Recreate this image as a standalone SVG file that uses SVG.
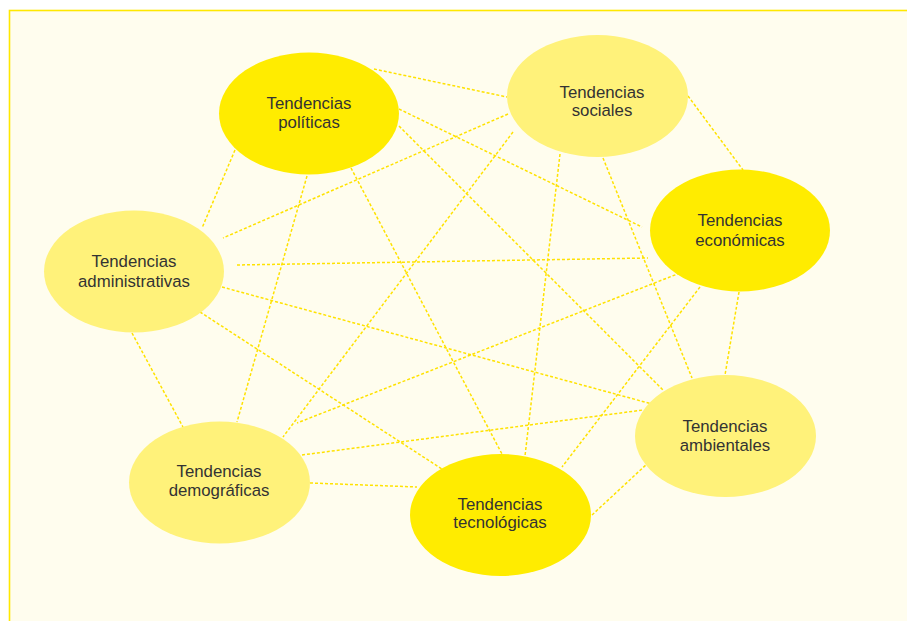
<svg xmlns="http://www.w3.org/2000/svg" width="907" height="621" viewBox="0 0 907 621">
<style>
.bg{fill:#FFFDEE;stroke:#FFE800;stroke-width:1.6}
.strong{fill:#FFEC00}
.light{fill:#FFF27A}
.lbl{font-family:"Liberation Sans",Arial,sans-serif;font-size:16.8px;fill:#333333;text-anchor:middle}
#connectors line{stroke:#FFE200;stroke-width:1.5;stroke-dasharray:3 2;fill:none}
</style>
<rect class="bg" x="9.5" y="10.5" width="1000" height="700"/>
<g id="connectors">
<line x1="374" y1="69" x2="507" y2="97"/>
<line x1="235" y1="150" x2="202" y2="228"/>
<line x1="307" y1="176" x2="237" y2="422"/>
<line x1="351" y1="168" x2="502" y2="454"/>
<line x1="399" y1="109" x2="642" y2="227"/>
<line x1="399" y1="126" x2="663" y2="390"/>
<line x1="508" y1="114" x2="223" y2="238"/>
<line x1="513" y1="132" x2="283" y2="437"/>
<line x1="560" y1="154" x2="525" y2="456"/>
<line x1="603" y1="158" x2="692" y2="378"/>
<line x1="688" y1="96" x2="743" y2="170"/>
<line x1="237" y1="265" x2="648" y2="258"/>
<line x1="680" y1="273" x2="297" y2="423"/>
<line x1="700" y1="287" x2="562" y2="467"/>
<line x1="739" y1="292" x2="725" y2="375"/>
<line x1="222" y1="287" x2="652" y2="404"/>
<line x1="200" y1="312" x2="445" y2="471"/>
<line x1="132" y1="333" x2="183" y2="427"/>
<line x1="302" y1="455" x2="643" y2="410"/>
<line x1="310" y1="483" x2="417" y2="487"/>
<line x1="592" y1="515" x2="648" y2="463"/>
</g>
<g id="politicas">
<ellipse class="strong" cx="309" cy="113.5" rx="90" ry="61"/>
<text class="lbl" x="309" y="109">Tendencias</text>
<text class="lbl" x="309" y="128">políticas</text>
</g>
<g id="sociales">
<ellipse class="light" cx="597.5" cy="96" rx="90.5" ry="61"/>
<text class="lbl" x="602" y="98">Tendencias</text>
<text class="lbl" x="602" y="116">sociales</text>
</g>
<g id="economicas">
<ellipse class="strong" cx="740" cy="230.5" rx="90" ry="61"/>
<text class="lbl" x="740" y="226">Tendencias</text>
<text class="lbl" x="740" y="246">económicas</text>
</g>
<g id="administrativas">
<ellipse class="light" cx="134" cy="271.5" rx="90" ry="61"/>
<text class="lbl" x="134" y="267">Tendencias</text>
<text class="lbl" x="134" y="287">administrativas</text>
</g>
<g id="ambientales">
<ellipse class="light" cx="725.5" cy="436" rx="90.5" ry="61"/>
<text class="lbl" x="725" y="432">Tendencias</text>
<text class="lbl" x="725" y="451">ambientales</text>
</g>
<g id="demograficas">
<ellipse class="light" cx="219.5" cy="482.5" rx="90.5" ry="61"/>
<text class="lbl" x="219" y="477">Tendencias</text>
<text class="lbl" x="219" y="496">demográficas</text>
</g>
<g id="tecnologicas">
<ellipse class="strong" cx="500.5" cy="515" rx="90.5" ry="61"/>
<text class="lbl" x="500" y="510">Tendencias</text>
<text class="lbl" x="500" y="528">tecnológicas</text>
</g>
</svg>
